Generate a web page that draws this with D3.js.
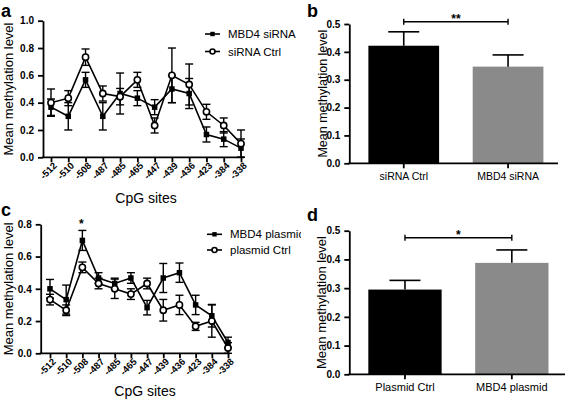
<!DOCTYPE html>
<html><head><meta charset="utf-8">
<script src="https://cdn.jsdelivr.net/npm/d3@7"></script>
<style>
body{margin:0;background:#fff}
svg{display:block;font-family:"Liberation Sans",Arial,sans-serif}
</style>
</head><body>
<svg id="chart" width="567" height="400"></svg>
<script>
// ---------- data ----------
const sites = ["-512","-510","-508","-487","-485","-465","-447","-439","-436","-423","-384","-338"];

// panel a (siRNA)
const aMbd4     = [0.367, 0.300, 0.567, 0.300, 0.467, 0.433, 0.367, 0.500, 0.467, 0.167, 0.133, 0.067];
const aMbd4Err  = [0.060, 0.100, 0.055, 0.100, 0.150, 0.055, 0.055, 0.100, 0.110, 0.055, 0.055, 0.067];
const aCtrl     = [0.400, 0.433, 0.733, 0.467, 0.444, 0.567, 0.233, 0.600, 0.533, 0.333, 0.233, 0.100];
const aCtrlErr  = [0.100, 0.055, 0.060, 0.055, 0.060, 0.055, 0.055, 0.200, 0.150, 0.055, 0.055, 0.100];

// panel c (plasmid)
const cMbd4     = [0.400, 0.333, 0.700, 0.467, 0.433, 0.467, 0.283, 0.467, 0.500, 0.300, 0.233, 0.067];
const cMbd4Err  = [0.058, 0.090, 0.062, 0.033, 0.033, 0.033, 0.045, 0.090, 0.060, 0.060, 0.070, 0.033];
const cCtrl     = [0.333, 0.267, 0.533, 0.433, 0.400, 0.367, 0.433, 0.267, 0.300, 0.167, 0.200, 0.033];
const cCtrlErr  = [0.033, 0.033, 0.033, 0.033, 0.060, 0.033, 0.033, 0.067, 0.060, 0.025, 0.100, 0.033];

// panel b
const bGroups = ["siRNA Ctrl", "MBD4 siRNA"];
const bValues = [0.422, 0.347];
const bErrors = [0.050, 0.042];
const bSig = "**";

// panel d
const dGroups = ["Plasmid Ctrl", "MBD4 plasmid"];
const dValues = [0.295, 0.388];
const dErrors = [0.032, 0.045];
const dSig = "*";

const yTicksLineA = [0, 0.2, 0.4, 0.6, 0.8, 1.0];
const yTicksLineC = [0, 0.2, 0.4, 0.6, 0.8];
const yTicksBar = [0, 0.1, 0.2, 0.3, 0.4, 0.5];

const yTitle = "Mean methylation level";
const xTitle = "CpG sites";

// ---------- drawing ----------
const svg = d3.select("#chart");
const fmt = d3.format(".1f");
const BAR_GRAY = "#8a8a8a";

svg.append("defs").append("clipPath").attr("id","legclip")
  .append("rect").attr("x",0).attr("y",0).attr("width",301).attr("height",400);

function styleAxis(sel, w) {
  sel.selectAll("path.domain").attr("stroke","#000").attr("stroke-width",w);
  sel.selectAll(".tick line").attr("stroke","#000").attr("stroke-width",w);
}

function panelLetter(t, x, y) {
  svg.append("text").attr("x",x).attr("y",y).text(t)
    .attr("font-size",18).attr("font-weight","bold").attr("fill","#000");
}

function drawMarker(g, type, cx, cy, k=1) {
  if (type === "square") {
    const s = 5.5*k;
    g.append("rect").attr("x",cx-s/2).attr("y",cy-s/2).attr("width",s).attr("height",s).attr("fill","#000");
  } else {
    g.append("circle").attr("cx",cx).attr("cy",cy).attr("r",3.1*k)
      .attr("fill","#fff").attr("stroke","#000").attr("stroke-width",1.6);
  }
}

function linePanel(cfg) {
  const g = svg.append("g");
  const x = d3.scalePoint().domain(sites).range([cfg.x0, cfg.x1]);
  const y = d3.scaleLinear().domain([0, cfg.yMax]).range([cfg.yBot, cfg.yTop]);

  const ya = g.append("g").attr("transform",`translate(${cfg.axisX},0)`)
    .call(d3.axisLeft(y).tickValues(cfg.yTicks).tickFormat(fmt).tickSize(5).tickSizeOuter(0).tickPadding(4));
  styleAxis(ya, 1.8);
  ya.selectAll("text").attr("font-size",10).attr("font-weight","bold")
    .attr("font-family","'Liberation Sans',Arial,sans-serif").attr("fill","#000");

  const xa = g.append("g").attr("transform",`translate(0,${cfg.yBot})`)
    .call(d3.axisBottom(x).tickSize(5).tickSizeOuter(0));
  xa.select("path.domain").remove();
  styleAxis(xa, 1.8);
  xa.selectAll("text").attr("font-size",9.5).attr("font-weight","bold")
    .attr("font-family","'Liberation Sans',Arial,sans-serif").attr("fill","#000")
    .attr("text-anchor","end").attr("x",0).attr("y",0).attr("dy",null)
    .attr("transform","translate(6,9) rotate(-45)");
  g.append("line").attr("x1",cfg.axisX-0.9).attr("x2",cfg.axisEnd)
    .attr("y1",cfg.yBot).attr("y2",cfg.yBot).attr("stroke","#000").attr("stroke-width",1.8);

  g.append("text").attr("transform",`translate(${cfg.yTitleX},${(cfg.yTop+cfg.yBot)/2}) rotate(-90)`)
    .attr("text-anchor","middle").attr("font-size",13).text(yTitle);
  g.append("text").attr("x",cfg.xTitleX).attr("y",cfg.xTitleY)
    .attr("text-anchor","middle").attr("font-size",14).text(xTitle);

  cfg.series.forEach(s => {
    const pts = sites.map((d,i)=>({site:d, v:s.values[i], e:s.errors[i]}));
    const sg = g.append("g");
    pts.forEach(p => {
      const cx = x(p.site);
      const lo = y(Math.max(0, p.v - p.e)), hi = y(p.v + p.e);
      sg.append("line").attr("x1",cx).attr("x2",cx).attr("y1",lo).attr("y2",hi)
        .attr("stroke","#000").attr("stroke-width",1.4);
      [lo, hi].forEach(yy => sg.append("line").attr("x1",cx-4).attr("x2",cx+4)
        .attr("y1",yy).attr("y2",yy).attr("stroke","#000").attr("stroke-width",1.4));
    });
    sg.append("path").datum(pts)
      .attr("d", d3.line().x(p=>x(p.site)).y(p=>y(p.v)))
      .attr("fill","none").attr("stroke","#000").attr("stroke-width",1.6);
    pts.forEach(p => drawMarker(sg, s.marker, x(p.site), y(p.v)));
  });

  const lg = g.append("g").attr("clip-path","url(#legclip)");
  cfg.series.forEach((s,i) => {
    const ly = cfg.legendY + i*cfg.legendGap;
    lg.append("line").attr("x1",cfg.legendX).attr("x2",cfg.legendX+15).attr("y1",ly).attr("y2",ly)
      .attr("stroke","#000").attr("stroke-width",1.6);
    drawMarker(lg, s.marker, cfg.legendX+7.5, ly, 0.8);
    lg.append("text").attr("x",cfg.legendX+23).attr("y",ly+4).attr("font-size",11.5).text(s.name);
  });

  if (cfg.star) {
    g.append("text").attr("x",x(cfg.star.site)-1).attr("y",cfg.star.y)
      .attr("text-anchor","middle").attr("font-size",12).attr("font-weight","bold").text("*");
  }
}

function barPanel(cfg) {
  const g = svg.append("g");
  const x = d3.scaleBand().domain(cfg.groups).range([cfg.axisX, cfg.bandEnd])
    .paddingInner(cfg.pi).paddingOuter(cfg.po);
  const y = d3.scaleLinear().domain([0, 0.5]).range([cfg.yBot, cfg.yTop]);

  const colors = ["#000", BAR_GRAY];
  cfg.groups.forEach((grp,i) => {
    g.append("rect").attr("x",x(grp)).attr("width",x.bandwidth())
      .attr("y",y(cfg.values[i])).attr("height",y(0)-y(cfg.values[i]))
      .attr("fill",colors[i]);
  });
  cfg.groups.forEach((grp,i) => {
    const cx = x(grp) + x.bandwidth()/2;
    const top = y(cfg.values[i] + cfg.errors[i]);
    g.append("line").attr("x1",cx).attr("x2",cx).attr("y1",y(cfg.values[i])).attr("y2",top)
      .attr("stroke","#000").attr("stroke-width",1.6);
    g.append("line").attr("x1",cx-cfg.cap).attr("x2",cx+cfg.cap).attr("y1",top).attr("y2",top)
      .attr("stroke","#000").attr("stroke-width",1.6);
  });

  const ya = g.append("g").attr("transform",`translate(${cfg.axisX},0)`)
    .call(d3.axisLeft(y).tickValues(yTicksBar).tickFormat(fmt).tickSize(5).tickSizeOuter(0).tickPadding(4));
  styleAxis(ya, 1.8);
  ya.selectAll("text").attr("font-size",10).attr("font-weight","bold")
    .attr("font-family","'Liberation Sans',Arial,sans-serif").attr("fill","#000");

  const xa = g.append("g").attr("transform",`translate(0,${cfg.yBot})`)
    .call(d3.axisBottom(x).tickSize(5).tickSizeOuter(0).tickPadding(4));
  xa.select("path.domain").remove();
  styleAxis(xa, 1.8);
  xa.selectAll("text").attr("font-size",cfg.labelSize)
    .attr("font-family","'Liberation Sans',Arial,sans-serif").attr("fill","#000");
  g.append("line").attr("x1",cfg.axisX-0.9).attr("x2",cfg.axisEnd)
    .attr("y1",cfg.yBot).attr("y2",cfg.yBot).attr("stroke","#000").attr("stroke-width",1.8);

  g.append("text").attr("transform",`translate(${cfg.yTitleX},${(cfg.yTop+cfg.yBot)/2}) rotate(-90)`)
    .attr("text-anchor","middle").attr("font-size",cfg.titleSize).text(yTitle);

  const c0 = x(cfg.groups[0]) + x.bandwidth()/2, c1 = x(cfg.groups[1]) + x.bandwidth()/2;
  const by = cfg.bracketY;
  g.append("line").attr("x1",c0).attr("x2",c1).attr("y1",by).attr("y2",by).attr("stroke","#000").attr("stroke-width",1.4);
  [c0,c1].forEach(cx => g.append("line").attr("x1",cx).attr("x2",cx).attr("y1",by-3).attr("y2",by+3)
    .attr("stroke","#000").attr("stroke-width",1.4));
  g.append("text").attr("x",(c0+c1)/2).attr("y",by+cfg.sigDy).attr("text-anchor","middle")
    .attr("font-size",12).attr("font-weight","bold").text(cfg.sig);
}

linePanel({
  x0:51, x1:241, axisX:43, axisEnd:244, yTop:20.7, yBot:157.3, yMax:1.0, yTicks:yTicksLineA,
  yTitleX:13, xTitleX:146, xTitleY:203,
  legendX:205, legendY:34, legendGap:17.5,
  series:[
    {name:"MBD4 siRNA", values:aMbd4, errors:aMbd4Err, marker:"square"},
    {name:"siRNA Ctrl", values:aCtrl, errors:aCtrlErr, marker:"circle"}
  ]
});

linePanel({
  x0:50, x1:228, axisX:40.7, axisEnd:230, yTop:224.3, yBot:353.3, yMax:0.8, yTicks:yTicksLineC,
  yTitleX:12.5, xTitleX:145, xTitleY:396,
  legendX:207, legendY:234.3, legendGap:15.7,
  star:{site:"-508", y:228},
  series:[
    {name:"MBD4 plasmid", values:cMbd4, errors:cMbd4Err, marker:"square"},
    {name:"plasmid Ctrl", values:cCtrl, errors:cCtrlErr, marker:"circle"}
  ]
});

barPanel({
  groups:bGroups, values:bValues, errors:bErrors, sig:bSig,
  axisX:349.3, bandEnd:562.5, axisEnd:558, pi:0.322, po:0.183,
  yTop:24, yBot:163.3, cap:15.5, labelSize:10.5, titleSize:12.5, yTitleX:327,
  bracketY:21.7, sigDy:1.5
});

barPanel({
  groups:dGroups, values:dValues, errors:dErrors, sig:dSig,
  axisX:349.3, bandEnd:567.5, axisEnd:565, pi:0.314, po:0.178,
  yTop:230.7, yBot:374.3, cap:15.5, labelSize:11, titleSize:13, yTitleX:326,
  bracketY:237.7, sigDy:1.5
});

panelLetter("a", 1, 16.5);
panelLetter("b", 307, 17);
panelLetter("c", 1, 216);
panelLetter("d", 307, 221);
</script>
</body></html>
